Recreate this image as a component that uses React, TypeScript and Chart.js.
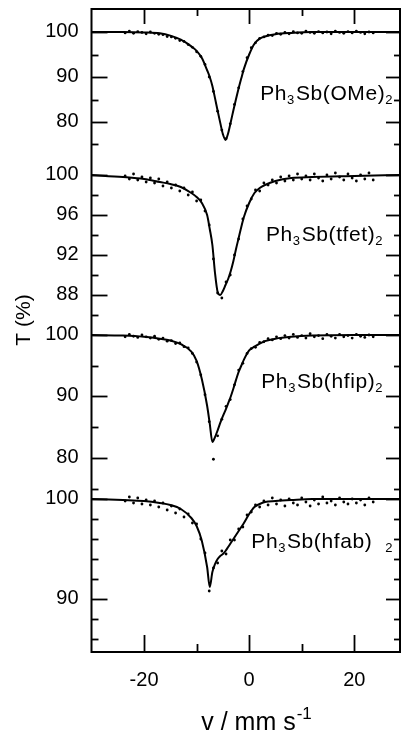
import React, { useEffect, useRef } from 'react';
import { Chart, registerables } from 'chart.js';

Chart.register(...registerables);

// Velocity channels (mm/s) of the measured points
const velocity = [
  -23.6, -22.8, -22.0, -21.2, -20.4, -19.6, -18.8, -18.0, -17.2, -16.4,
  -15.6, -14.8, -14.0, -13.2, -12.4, -11.6, -10.8, -10.0, -9.2, -8.4,
  -7.6, -6.8, -6.0, -5.2, -4.4, -3.6, -2.8, -2.0, -1.2, -0.4,
  0.4, 1.2, 2.0, 2.8, 3.6, 4.4, 5.2, 6.0, 6.8, 7.6,
  8.4, 9.2, 10.0, 10.8, 11.6, 12.4, 13.2, 14.0, 14.8, 15.6,
  16.4, 17.2, 18.0, 18.8, 19.6, 20.4, 21.2, 22.0, 22.8, 23.6,
];

// Measured transmission T (%)
const OMeData = [
  99.8, 100.2, 99.7, 100.1, 99.9, 99.6, 100.0, 99.7, 99.5, 99.4,
  99.0, 98.9, 98.6, 98.1, 97.9, 97.2, 96.6, 95.6, 94.6, 92.8,
  90.0, 86.8, 82.4, 78.2, 76.3, 79.6, 83.9, 87.6, 91.2, 94.3,
  96.5, 97.6, 98.6, 98.9, 99.3, 99.2, 99.7, 99.5, 99.9, 99.6,
  100.1, 99.8, 99.7, 100.2, 99.9, 99.7, 100.1, 99.8, 100.0, 99.6,
  100.2, 99.9, 99.7, 100.1, 99.8, 100.2, 99.9, 99.6, 100.0, 99.8,
];
const tfetData = [
  99.9, 99.6, 100.1, 99.5, 99.8, 99.3, 99.7, 99.2, 99.6, 98.9,
  99.3, 98.7, 99.0, 98.4, 98.7, 98.0, 98.3, 97.4, 97.5, 96.4,
  95.0, 91.6, 88.2, 87.7, 89.3, 90.0, 92.0, 93.6, 95.6, 96.9,
  97.6, 98.5, 98.4, 99.2, 99.0, 99.5, 99.2, 99.8, 99.4, 99.9,
  99.5, 100.1, 99.6, 99.9, 99.5, 100.1, 99.7, 99.4, 100.0, 99.6,
  100.2, 99.8, 99.5, 100.1, 99.7, 99.4, 100.0, 99.6, 100.2, 99.5,
];
const hfipData = [
  99.7, 100.1, 99.8, 99.6, 100.0, 99.7, 99.5, 99.8, 99.3, 99.5,
  99.0, 99.1, 98.6, 98.7, 98.1, 97.9, 97.0, 95.6, 93.5, 90.3,
  85.9, 79.8, 83.6, 86.3, 88.4, 89.5, 91.9, 94.3, 95.4, 97.0,
  97.8, 98.0, 98.8, 98.9, 99.4, 99.2, 99.7, 99.4, 99.9, 99.5,
  100.1, 99.6, 99.9, 99.5, 100.2, 99.7, 99.9, 99.4, 100.1, 99.8,
  99.5, 100.1, 99.7, 99.9, 99.5, 100.1, 99.8, 99.6, 100.0, 99.7,
];
const hfabData = [
  99.8, 100.2, 99.6, 100.1, 99.5, 99.9, 99.4, 99.8, 99.2, 99.6,
  98.9, 99.3, 98.6, 99.0, 98.2, 98.5, 97.6, 97.5, 96.0, 94.6,
  90.8, 93.1, 93.6, 94.8, 94.5, 95.9, 95.9, 97.0, 97.2, 98.4,
  98.7, 99.4, 99.2, 99.8, 99.4, 100.1, 99.5, 99.9, 99.3, 100.0,
  99.6, 99.4, 100.1, 99.7, 99.3, 99.9, 99.5, 100.2, 99.6, 99.8,
  99.4, 100.1, 99.7, 99.5, 100.0, 99.6, 99.9, 99.4, 100.1, 99.7,
];

// Fitted curves
const fitVelocity = [
  -30, -24, -20, -17, -15, -13, -11, -10, -9, -8, -7.5, -7, -6.5, -6, -5.5, -5,
  -4.5, -4, -3.5, -3, -2.5, -2, -1.5, -1, 0, 1, 2, 3, 5, 8, 12, 20, 28.7,
];
const OMeFit = [
  100, 100, 99.9, 99.7, 99.2, 98.3, 96.8, 95.8, 94.2, 91.5, 90.0, 88.0, 85.3, 82.5, 79.8, 77.3,
  76.0, 77.5, 80.0, 82.6, 85.1, 87.5, 89.7, 91.8, 95.0, 97.4, 98.5, 99.0, 99.5, 99.8, 100, 100, 100,
];
const tfetFit = [
  100, 99.8, 99.6, 99.3, 99.1, 98.8, 98.2, 97.8, 97.2, 96.0, 94.6, 93.0, 90.2, 88.3, 88.0, 88.4,
  89.0, 89.6, 90.4, 91.4, 92.6, 93.7, 94.8, 95.8, 97.2, 98.2, 98.7, 99.0, 99.4, 99.7, 99.8, 99.9, 100,
];
const hfipFit = [
  100, 99.9, 99.7, 99.4, 99.1, 98.5, 97.3, 95.8, 92.8, 88.5, 85.6, 82.6, 83.4, 84.5, 85.7, 86.8,
  87.8, 88.9, 90.0, 91.3, 92.7, 94.0, 95.0, 96.0, 97.5, 98.1, 98.6, 99.0, 99.4, 99.7, 99.9, 100, 100,
];
const hfabFit = [
  100, 99.9, 99.8, 99.6, 99.4, 99.0, 98.1, 97.3, 95.8, 93.2, 91.2, 92.7, 93.5, 94.0, 94.3, 94.5,
  94.8, 95.2, 95.6, 96.0, 96.4, 96.8, 97.2, 97.6, 98.5, 99.2, 99.5, 99.7, 99.8, 99.9, 100, 100, 100,
];

// Axis ticks
const OMeTicks = [100, 95, 90, 85, 80, 75];
const OMeLabels = [100, 90, 80];
const tfetTicks = [100, 98, 96, 94, 92, 90, 88, 86];
const tfetLabels = [100, 96, 92, 88];
const hfipTicks = [100, 95, 90, 85, 80, 75];
const hfipLabels = [100, 90, 80];
const hfabTicks = [100, 98, 96, 94, 92, 90, 88, 86];
const hfabLabels = [100, 90];

const xMajorTicks = [-20, 0, 20];
const xMinorTicks = [-10, 10];
const xTickLabels = ['-20', '0', '20'];

const FONT = '"Liberation Sans", Arial, Helvetica, sans-serif';

type Seg = { t: string; sub?: boolean };
type Panel = {
  name: Seg[];
  data: number[];
  fit: number[];
  ticks: number[];
  labels: number[];
  offset: number; // axis position of T = 100 %
  scale: number; // axis units per 1 %
  labelAt: [number, number]; // [v, T] of the text start / baseline
};

const panels: Panel[] = [
  {
    name: [{ t: 'Ph' }, { t: '3', sub: true }, { t: 'Sb(OMe)' }, { t: '2', sub: true }],
    data: OMeData, fit: OMeFit, ticks: OMeTicks, labels: OMeLabels,
    offset: 620, scale: 4.5, labelAt: [2.1, 84.9],
  },
  {
    name: [{ t: 'Ph' }, { t: '3', sub: true }, { t: 'Sb(tfet)' }, { t: '2', sub: true }],
    data: tfetData, fit: tfetFit, ticks: tfetTicks, labels: tfetLabels,
    offset: 477, scale: 10, labelAt: [3.2, 93.4],
  },
  {
    name: [{ t: 'Ph' }, { t: '3', sub: true }, { t: 'Sb(hfip)' }, { t: '2', sub: true }],
    data: hfipData, fit: hfipFit, ticks: hfipTicks, labels: hfipLabels,
    offset: 317, scale: 6.15, labelAt: [2.3, 91.4],
  },
  {
    name: [{ t: 'Ph' }, { t: '3', sub: true }, { t: 'Sb(hfab)  ' }, { t: '2', sub: true }],
    data: hfabData, fit: hfabFit, ticks: hfabTicks, labels: hfabLabels,
    offset: 153, scale: 10, labelAt: [0.4, 95.1],
  },
];

const tr = (p: Panel, T: number) => p.offset + (T - 100) * p.scale;

const decor = {
  id: 'decor',
  afterDraw(chart: any) {
    const { ctx, chartArea: a } = chart;
    const x = chart.scales.x;
    const y = chart.scales.y;
    ctx.save();
    ctx.strokeStyle = '#000';
    ctx.lineCap = 'butt';
    const seg = (x1: number, y1: number, x2: number, y2: number) => {
      ctx.beginPath();
      ctx.moveTo(x1, y1);
      ctx.lineTo(x2, y2);
      ctx.stroke();
    };
    // frame
    ctx.lineWidth = 2;
    ctx.strokeRect(a.left, a.top, a.right - a.left, a.bottom - a.top);
    // y ticks and their labels
    ctx.lineWidth = 1.8;
    ctx.fillStyle = '#000';
    ctx.font = `20px ${FONT}`;
    ctx.textAlign = 'right';
    ctx.textBaseline = 'middle';
    panels.forEach((p) => {
      p.ticks.forEach((t) => {
        const yy = y.getPixelForValue(tr(p, t));
        const py = Math.round(yy) + 0.5;
        const major = p.labels.includes(t);
        seg(a.left, py, a.left + (major ? 16 : 7), py);
        seg(a.right, py, a.right - (major ? 14 : 6), py);
        if (major) ctx.fillText(String(t), a.left - 13, yy - 1);
      });
    });
    // x ticks
    xMajorTicks.forEach((v) => {
      const px = Math.round(x.getPixelForValue(v)) + 0.5;
      seg(px, a.bottom, px, a.bottom - 17);
      seg(px, a.top, px, a.top + 15);
    });
    xMinorTicks.forEach((v) => {
      const px = Math.round(x.getPixelForValue(v)) + 0.5;
      seg(px, a.bottom, px, a.bottom - 8);
      seg(px, a.top, px, a.top + 7);
    });
    // compound labels
    ctx.textBaseline = 'alphabetic';
    ctx.textAlign = 'left';
    (ctx as any).letterSpacing = '0.6px';
    panels.forEach((p) => {
      let px = x.getPixelForValue(p.labelAt[0]);
      const py = y.getPixelForValue(tr(p, p.labelAt[1]));
      p.name.forEach((s) => {
        ctx.font = s.sub ? `13px ${FONT}` : `21px ${FONT}`;
        ctx.fillText(s.t, px, py + (s.sub ? 4 : 0));
        px += ctx.measureText(s.t).width + (s.sub ? 1 : 0);
      });
    });
    (ctx as any).letterSpacing = '0px';
    // y title
    ctx.save();
    ctx.translate(24, 320);
    ctx.rotate(-Math.PI / 2);
    ctx.font = `21px ${FONT}`;
    ctx.textAlign = 'center';
    ctx.textBaseline = 'middle';
    ctx.fillText('T (%)', 0, 0);
    ctx.restore();
    // x title
    ctx.font = `25px ${FONT}`;
    const main = 'v / mm s';
    const sup = '-1';
    const w1 = ctx.measureText(main).width;
    ctx.font = `17px ${FONT}`;
    const w2 = ctx.measureText(sup).width;
    const start = 256 - (w1 + w2) / 2;
    ctx.textAlign = 'left';
    ctx.textBaseline = 'alphabetic';
    ctx.font = `25px ${FONT}`;
    ctx.fillText(main, start, 730);
    ctx.font = `17px ${FONT}`;
    ctx.fillText(sup, start + w1 + 1, 719);
    ctx.restore();
  },
};

export default function App() {
  const ref = useRef<HTMLCanvasElement>(null);
  useEffect(() => {
    document.body.style.margin = '0';
    const canvas = ref.current;
    if (!canvas) return;
    const datasets: any[] = [];
    panels.forEach((p) => {
      datasets.push({
        data: fitVelocity.map((v, i) => ({ x: v, y: tr(p, p.fit[i]) })),
        showLine: true,
        borderColor: '#000',
        borderWidth: 2,
        pointRadius: 0,
        cubicInterpolationMode: 'monotone',
      });
      datasets.push({
        data: velocity.map((v, i) => ({ x: v, y: tr(p, p.data[i]) })),
        showLine: false,
        pointRadius: 1.4,
        pointBorderWidth: 0,
        backgroundColor: '#000',
        borderColor: '#000',
      });
    });
    const chart = new Chart(canvas, {
      type: 'scatter',
      data: { datasets },
      options: {
        animation: false,
        responsive: false,
        maintainAspectRatio: false,
        layout: { padding: { top: 9, right: 1, left: 0, bottom: 0 } },
        plugins: { legend: { display: false }, tooltip: { enabled: false } },
        scales: {
          x: {
            type: 'linear',
            min: -30,
            max: 28.7,
            grid: { display: false },
            border: { display: false },
            afterBuildTicks: (s: any) => {
              s.ticks = xMajorTicks.map((v) => ({ value: v }));
            },
            afterFit: (s: any) => {
              s.height = 80;
            },
            ticks: {
              autoSkip: false,
              maxRotation: 0,
              padding: 8,
              color: '#000',
              font: { size: 20, family: FONT },
              callback: (v: any) => {
                const i = xMajorTicks.indexOf(Number(v));
                return i >= 0 ? xTickLabels[i] : '';
              },
            },
          },
          y: {
            type: 'linear',
            min: 0,
            max: 643,
            grid: { display: false },
            border: { display: false },
            ticks: { display: false },
            afterFit: (s: any) => {
              s.width = 91.5;
            },
          },
        },
      },
      plugins: [decor],
    } as any);
    return () => chart.destroy();
  }, []);
  return (
    <div style={{ width: 404, height: 732 }}>
      <canvas ref={ref} width={404} height={732} style={{ display: 'block' }} />
    </div>
  );
}
